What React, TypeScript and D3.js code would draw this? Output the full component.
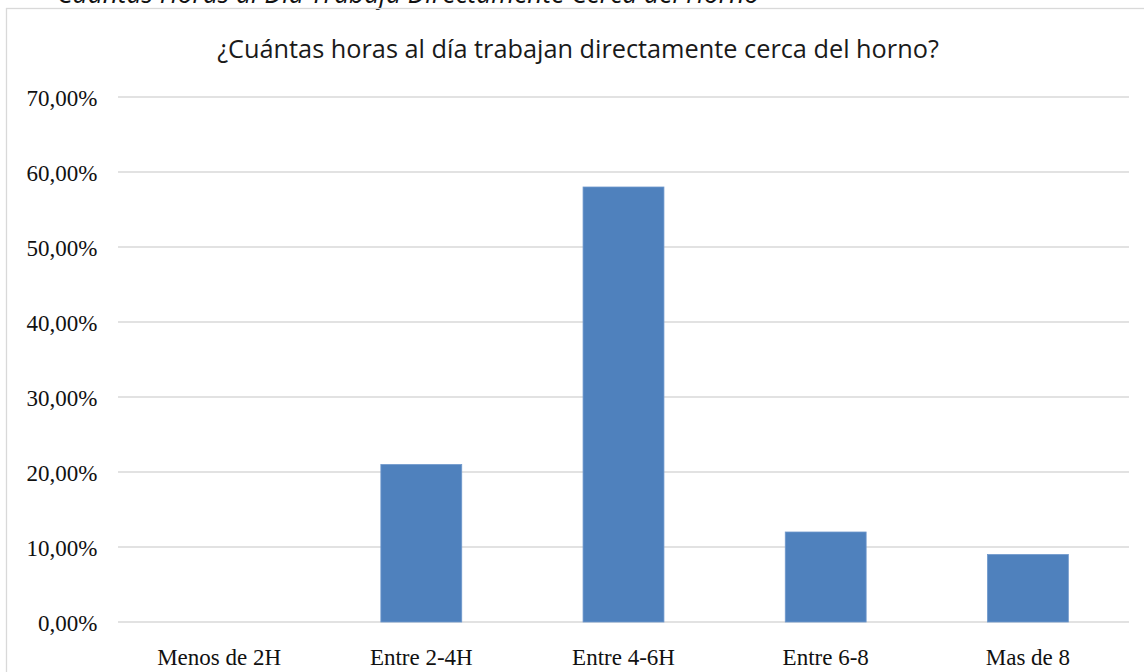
import { useEffect } from "react";
import * as d3 from "d3";

const categories = ["Menos de 2H", "Entre 2-4H", "Entre 4-6H", "Entre 6-8", "Mas de 8"];
const values = [0, 0.21, 0.58, 0.12, 0.09];
const yTicks = [0, 0.1, 0.2, 0.3, 0.4, 0.5, 0.6, 0.7];
const chartTitle = "¿Cuántas horas al día trabajan directamente cerca del horno?";
const captionAbove = "Cuántas Horas al Día Trabaja Directamente Cerca del Horno";

const W = 1144;
const H = 672;
const margin = { top: 97, right: 15, bottom: 50, left: 118 };

const fmt = (v: number) => (v * 100).toFixed(2).replace(".", ",") + "%";

const App = () => {
  useEffect(() => {
    document.body.style.margin = "0";
  }, []);

  const x = d3
    .scaleBand()
    .domain(categories)
    .range([margin.left, W - margin.right])
    .paddingInner(0.6)
    .paddingOuter(0.3);

  const y = d3
    .scaleLinear()
    .domain([0, 0.7])
    .range([H - margin.bottom, margin.top]);

  const sans = "'Open Sans', 'Noto Sans', sans-serif";
  const serif = "'Liberation Serif', 'DejaVu Serif', serif";

  return (
    <svg width={W} height={H} style={{ display: "block", background: "#fff" }}>
      {/* caption of the figure, cut off by the page top as in the source */}
      <text x={57} y={3} fontFamily={sans} fontStyle="italic" fontSize={26.4} fill="#111">
        {captionAbove}
      </text>

      {/* chart frame */}
      <rect x={6.5} y={8.5} width={W + 10} height={H + 10} fill="none" stroke="#d9d9d9" strokeWidth={1.3} />

      <text x={578} y={58} textAnchor="middle" fontFamily={sans} fontSize={25.3} fill="#1a1a1a">
        {chartTitle}
      </text>

      {yTicks.map((t) => (
        <g key={t}>
          <line
            x1={margin.left}
            x2={W - margin.right}
            y1={y(t)}
            y2={y(t)}
            stroke="#d9d9d9"
            strokeWidth={1.4}
          />
          <text x={97.5} y={y(t) + 9} textAnchor="end" fontFamily={serif} fontSize={23} fill="#111">
            {fmt(t)}
          </text>
        </g>
      ))}

      {categories.map((c, i) => (
        <rect
          key={c}
          x={x(c)}
          y={y(values[i])}
          width={x.bandwidth()}
          height={y(0) - y(values[i])}
          fill="#4f81bd"
          stroke="#6f98cc"
          strokeWidth={values[i] > 0 ? 0.8 : 0}
        />
      ))}

      {categories.map((c) => (
        <text
          key={c}
          x={(x(c) ?? 0) + x.bandwidth() / 2}
          y={H - 7}
          textAnchor="middle"
          fontFamily={serif}
          fontSize={23}
          fill="#111"
        >
          {c}
        </text>
      ))}
    </svg>
  );
};

export default App;
